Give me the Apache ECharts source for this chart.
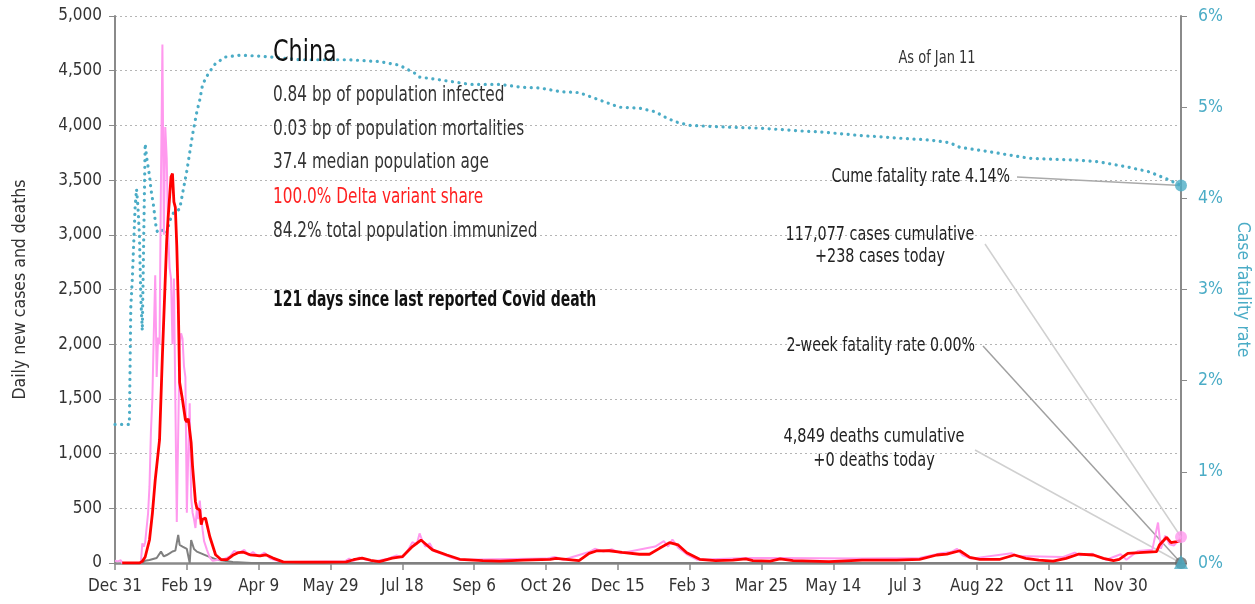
<!DOCTYPE html>
<html><head><meta charset="utf-8">
<script src="https://cdn.jsdelivr.net/npm/echarts@6/dist/echarts.min.js"></script>
<style>html,body{margin:0;padding:0;background:#fff}#c{width:1255px;height:604px}</style>
</head><body><div id="c"></div>
<script>
const FONT = "'Liberation Sans Narrow','Arial Narrow','DejaVu Sans Condensed',sans-serif";
const tickLabels = ['Dec 31','Feb 19','Apr 9','May 29','Jul 18','Sep 6','Oct 26','Dec 15','Feb 3','Mar 25','May 14','Jul 3','Aug 22','Oct 11','Nov 30'];
const lastDay = 742;

// 7-day average of daily new cases [day since Dec 31 2019, cases]
const casesAvg = [[5,0],[17,0],[19,15],[21,55],[24,210],[26,450],[28,760],[31,1125],[33,1900],[35,2600],[36,2950],[37,3160],[39,3530],[40,3560],[41,3300],[42,3250],[43,2900],[44,2400],[45,1650],[47,1490],[49,1310],[50,1290],[51,1320],[52,1325],[53,1100],[54,880],[56,560],[57,500],[59,485],[60,350],[61,400],[63,410],[66,240],[70,75],[74,30],[78,30],[82,70],[86,95],[89,100],[94,75],[98,70],[101,65],[105,75],[110,45],[117,10],[130,8],[145,8],[161,10],[166,30],[172,45],[178,25],[184,12],[193,45],[200,58],[207,150],[213,210],[217,165],[221,120],[231,73],[240,34],[256,21],[268,18],[284,27],[303,34],[307,43],[314,34],[323,21],[330,88],[335,110],[344,112],[353,98],[365,80],[372,80],[379,134],[386,186],[392,165],[398,94],[407,34],[418,21],[430,27],[439,37],[444,21],[456,18],[463,37],[472,21],[497,12],[520,27],[544,27],[560,34],[572,73],[579,82],[588,112],[595,52],[602,34],[616,34],[626,73],[634,43],[643,27],[653,18],[662,43],[671,82],[681,73],[688,43],[695,21],[699,34],[705,88],[713,94],[725,104],[727,165],[732,235],[735,186],[739,195],[742,205]];

// daily new cases (raw)
const casesDaily = [[0,20],[2,15],[4,25],[5,0],[18,0],[19,180],[20,150],[21,190],[22,200],[23,450],[24,700],[25,1200],[26,1500],[27,2100],[28,2630],[29,1700],[30,2060],[31,2000],[32,3500],[33,4740],[34,3000],[35,3985],[36,3700],[37,3000],[38,2700],[39,2600],[40,2000],[41,2600],[42,1500],[43,375],[44,375],[45,2000],[46,2100],[47,2050],[48,1800],[49,1700],[50,460],[51,1000],[52,1460],[53,600],[54,460],[55,400],[56,320],[57,500],[58,400],[59,570],[60,420],[61,300],[62,200],[64,120],[66,50],[68,20],[72,30],[75,30],[80,60],[83,110],[86,90],[90,120],[93,70],[96,100],[100,60],[104,95],[108,40],[112,25],[118,10],[160,15],[163,40],[166,20],[170,50],[175,30],[180,15],[190,40],[196,70],[200,50],[204,120],[207,190],[210,170],[212,270],[214,200],[216,150],[219,180],[222,110],[226,90],[230,70],[235,45],[240,30],[300,40],[306,55],[312,30],[330,100],[334,130],[340,105],[346,125],[352,90],[376,150],[382,200],[385,150],[388,215],[392,140],[398,80],[405,30],[440,45],[460,45],[520,40],[560,45],[575,90],[582,100],[586,130],[590,70],[596,40],[624,90],[628,65],[660,55],[668,95],[672,70],[680,85],[690,30],[700,80],[704,30],[712,110],[722,120],[726,370],[728,130],[731,250],[734,170],[737,160],[740,200],[742,238]];

// daily deaths
const deathsDaily = [[19,0],[21,20],[24,27],[29,46],[32,104],[34,60],[36,73],[38,88],[40,105],[42,113],[43,120],[44,256],[45,165],[47,150],[50,128],[51,140],[52,0],[53,210],[55,128],[57,104],[64,65],[71,30],[82,10],[95,0],[742,0]];

// case fatality rate (%), right axis
const cfr = [[0,1.52],[10,1.52],[11,2.81],[12,3.1],[13,3.5],[14,3.9],[15,4.1],[16,3.9],[17,3.6],[18,2.9],[19,2.55],[20,2.56],[21,4.6],[22,4.45],[23,4.35],[24,4.25],[25,4.1],[26,4.0],[27,3.9],[28,3.75],[29,3.65],[30,3.62],[33,3.65],[36,3.62],[38,3.75],[41,3.85],[45,3.88],[47,4.05],[50,4.3],[52,4.5],[54,4.7],[57,4.95],[59,5.08],[61,5.25],[65,5.37],[70,5.48],[77,5.55],[87,5.57],[101,5.56],[115,5.54],[129,5.52],[163,5.52],[184,5.5],[198,5.46],[209,5.37],[212,5.33],[226,5.3],[247,5.25],[268,5.25],[282,5.22],[296,5.21],[310,5.17],[323,5.16],[337,5.08],[351,5.0],[365,4.99],[376,4.95],[383,4.89],[390,4.84],[400,4.8],[428,4.78],[449,4.77],[476,4.74],[490,4.73],[518,4.69],[546,4.66],[567,4.64],[581,4.61],[588,4.56],[609,4.51],[636,4.44],[668,4.42],[685,4.4],[706,4.34],[720,4.29],[734,4.2],[742,4.14]];

const lastCfr = 4.14, lastCases = 238, lastDeaths = 0, twoWeekCfr = 0;

const chart = echarts.init(document.getElementById('c'), null, {renderer:'canvas'});
const teal = '#4bacc6';
const option = {
  animation:false,
  textStyle:{fontFamily:FONT},
  grid:{left:115,right:74,top:16,bottom:41,containLabel:false,outerBoundsMode:'none'},
  xAxis:{type:'value',min:0,max:lastDay,interval:50,
    axisLine:{lineStyle:{color:'#8a8a8a',width:2.5}},
    axisTick:{show:true,length:7,lineStyle:{color:'#8a8a8a',width:1.5}},
    axisLabel:{color:'#333',fontSize:17,fontFamily:FONT,margin:15,showMaxLabel:false,
      formatter:v=>{const i=Math.round(v/50);return (v%50===0&&tickLabels[i])?tickLabels[i]:'';}},
    splitLine:{show:false}},
  yAxis:[{type:'value',min:0,max:5000,interval:500,position:'left',
    name:'Daily new cases and deaths',nameLocation:'middle',nameGap:86,
    nameTextStyle:{color:'#333',fontSize:17.5,fontFamily:FONT},
    axisLine:{show:true,lineStyle:{color:'#8a8a8a',width:2}},
    axisTick:{show:true,length:6,lineStyle:{color:'#8a8a8a'}},
    axisLabel:{color:'#333',fontSize:17,fontFamily:FONT,margin:13,formatter:v=>v.toLocaleString('en-US')},
    splitLine:{show:true,lineStyle:{color:'#b5b5b5',type:[2,3],width:1}}},
   {type:'value',min:0,max:6,interval:1,position:'right',
    name:'Case fatality rate',nameLocation:'middle',nameGap:43,nameRotate:-90,
    nameTextStyle:{color:teal,fontSize:17.5,fontFamily:FONT},
    axisLine:{show:true,lineStyle:{color:'#8a8a8a',width:2}},
    axisTick:{show:true,length:6,lineStyle:{color:'#8a8a8a'}},
    axisLabel:{color:teal,fontSize:17.5,fontFamily:FONT,margin:17,formatter:v=>v+'%'},
    splitLine:{show:false}}],
  series:[
    {type:'line',data:cfr,yAxisIndex:1,showSymbol:false,lineStyle:{color:teal,width:3.2,type:[0.1,6.5],cap:'round'},z:2},
    {type:'line',data:deathsDaily,showSymbol:false,lineStyle:{color:'#808080',width:2},z:3},
    {type:'line',data:casesDaily,showSymbol:false,lineStyle:{color:'#ff99ee',width:2},z:4},
    {type:'line',data:casesAvg,showSymbol:false,lineStyle:{color:'#ff0000',width:2.8},z:5},
    {type:'scatter',data:[[lastDay,lastCfr]],yAxisIndex:1,symbol:'circle',symbolSize:12,itemStyle:{color:teal},clip:false,z:6},
    {type:'scatter',data:[[lastDay,lastCases]],symbol:'circle',symbolSize:12,itemStyle:{color:'#ff99ee'},clip:false,z:6},
    {type:'scatter',data:[[lastDay,lastDeaths]],symbol:'circle',symbolSize:12,itemStyle:{color:'#666'},clip:false,z:6},
    {type:'scatter',data:[[lastDay,twoWeekCfr]],yAxisIndex:1,symbol:'triangle',symbolSize:14,symbolOffset:[0,-1],itemStyle:{color:teal},clip:false,z:7}
  ]
};
chart.setOption(option);

function txt(x,y,text,size,color,weight,align,sx){
  return {type:'text',x:x,y:y,scaleX:sx||0.82,z:20,silent:true,style:{text:text,fill:color||'#333',font:(weight||'normal')+' '+size+'px '+FONT,
    align:align||'left',textAlign:align||'left',verticalAlign:'middle',textVerticalAlign:'middle'}};
}
function leader(x1,y1,pt,axisIdx,color){
  const p = chart.convertToPixel({xAxisIndex:0,yAxisIndex:axisIdx},pt);
  return {type:'line',z:1,silent:true,shape:{x1:x1,y1:y1,x2:p[0],y2:p[1]},style:{stroke:color,lineWidth:1.5}};
}
const g = [
  txt(273,53,'China',31,'#111','normal','left',0.8),
  txt(273,96,'0.84 bp of population infected',21,'#333','normal','left',0.81),
  txt(273,130,'0.03 bp of population mortalities',21,'#333','normal','left',0.81),
  txt(273,163,'37.4 median population age',21,'#333','normal','left',0.81),
  txt(273,198,'100.0% Delta variant share',21,'#ff2020','normal','left',0.81),
  txt(273,232,'84.2% total population immunized',21,'#333','normal','left',0.81),
  txt(273,301,'121 days since last reported Covid death',21,'#111','bold','left',0.74),
  txt(937,59,'As of Jan 11',17,'#333','normal','center',0.85),
  txt(1010,177,'Cume fatality rate 4.14%',19,'#222','normal','right',0.83),
  txt(880,235,'117,077 cases cumulative',19,'#222','normal','center',0.84),
  txt(880,257,'+238 cases today',19,'#222','normal','center',0.84),
  txt(975,346,'2-week fatality rate 0.00%',19,'#222','normal','right',0.83),
  txt(874,437,'4,849 deaths cumulative',19,'#222','normal','center',0.85),
  txt(874,461,'+0 deaths today',19,'#222','normal','center',0.85),
  leader(1017,177,[lastDay,lastCfr],1,'#aaaaaa'),
  leader(985,244,[lastDay,lastCases],0,'#d0d0d0'),
  leader(983,346,[lastDay,lastDeaths],0,'#a0a0a0'),
  leader(975,450,[lastDay,lastDeaths],0,'#d0d0d0')
];
chart.setOption({graphic:g});
</script></body></html>
